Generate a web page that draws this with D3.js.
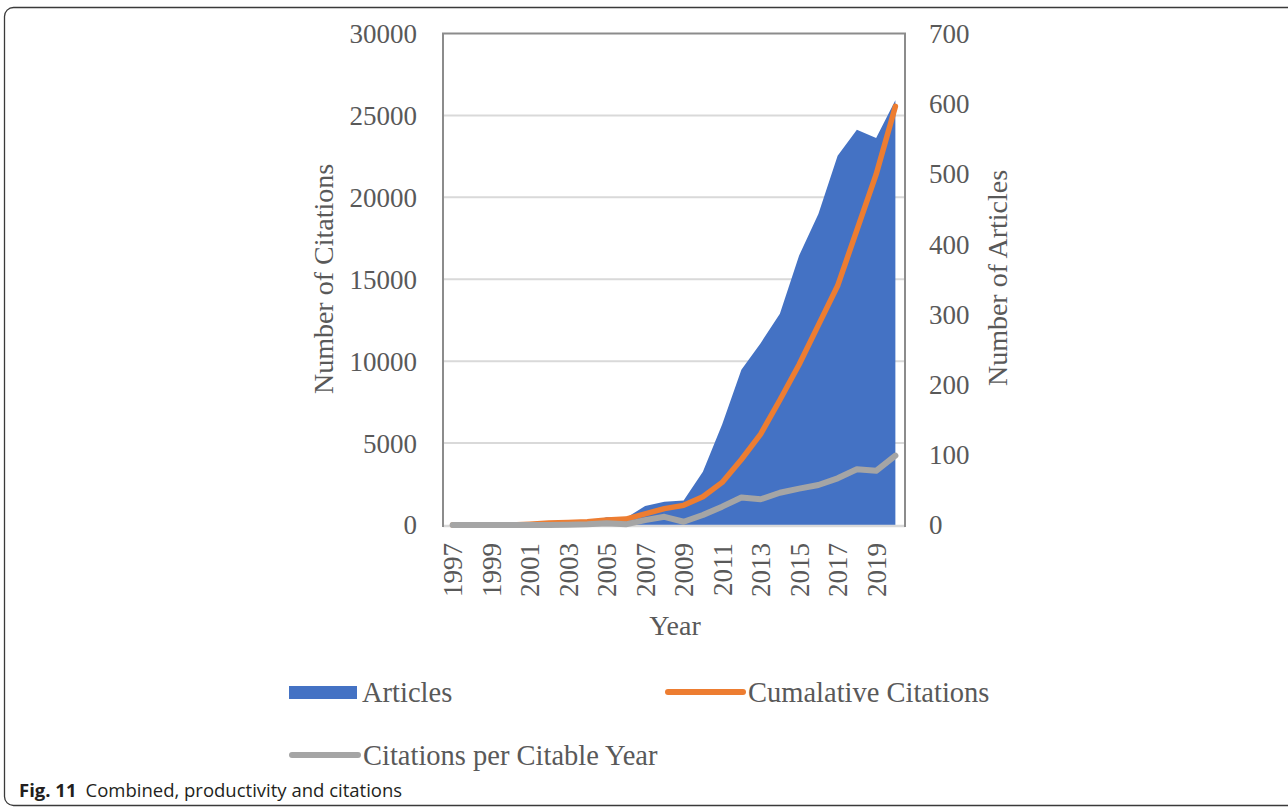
<!DOCTYPE html>
<html>
<head>
<meta charset="utf-8">
<script src="https://cdn.jsdelivr.net/npm/d3@7"></script>
<style>
  html, body { margin: 0; padding: 0; background: #fff; }
  svg { display: block; }
</style>
</head>
<body>
<svg id="chart" width="1288" height="809"></svg>
<script>
// Yearly series
const years = [1997, 1998, 1999, 2000, 2001, 2002, 2003, 2004, 2005, 2006, 2007, 2008,
               2009, 2010, 2011, 2012, 2013, 2014, 2015, 2016, 2017, 2018, 2019, 2020];
const articles = [0, 0, 0, 0, 0, 1, 1, 3, 11, 10, 27, 33,
                  35, 76, 143, 221, 259, 301, 384, 443, 526, 563, 551, 605];
const cumulativeCitations = [0, 0, 0, 0, 50, 120, 160, 200, 300, 360, 680, 1000,
                             1200, 1720, 2600, 4000, 5550, 7630, 9800, 12200, 14600, 18000, 21400, 25550];
const citationsPerYear = [0, 0, 0, 0, 0, 0, 20, 40, 100, 40, 300, 500,
                          200, 610, 1120, 1680, 1570, 1970, 2220, 2440, 2850, 3400, 3310, 4230];

const leftTicks = [0, 5000, 10000, 15000, 20000, 25000, 30000];
const rightTicks = [0, 100, 200, 300, 400, 500, 600, 700];
const yearTicks = years.filter(y => y % 2 === 1);

const legendLabels = ["Articles", "Cumalative Citations", "Citations per Citable Year"];

const C = { blue: "#4472C4", orange: "#ED7D31", gray: "#A5A5A5", text: "#595959",
            grid: "#D9D9D9", frame: "#8C8C8C" };
const serif = "'Liberation Serif', 'Times New Roman', serif";

const svg = d3.select("#chart");

// outer figure box with rounded corners
svg.append("rect")
  .attr("x", 4.5).attr("y", 7.5).attr("width", 1310).attr("height", 798)
  .attr("rx", 9).attr("ry", 9)
  .attr("fill", "none").attr("stroke", "#3a3a3a").attr("stroke-width", 1.3);

const plot = { left: 443, right: 905, top: 33.5, bottom: 525 };

const x = d3.scalePoint().domain(years).range([plot.left, plot.right]).padding(0.5);
const yL = d3.scaleLinear().domain([0, 30000]).range([plot.bottom, plot.top]);
const yR = d3.scaleLinear().domain([0, 700]).range([plot.bottom, plot.top]);

// gridlines
svg.append("g")
  .selectAll("line").data(leftTicks.filter(t => t > 0 && t < 30000)).join("line")
  .attr("x1", plot.left).attr("x2", plot.right)
  .attr("y1", d => yL(d)).attr("y2", d => yL(d))
  .attr("stroke", C.grid).attr("stroke-width", 2);

// articles area (right axis)
const area = d3.area()
  .x((d, i) => x(years[i]))
  .y0(plot.bottom)
  .y1(d => yR(d));
svg.append("path").datum(articles)
  .attr("d", area).attr("fill", C.blue);

// category axis line
svg.append("line")
  .attr("x1", plot.left).attr("x2", plot.right)
  .attr("y1", plot.bottom + 1).attr("y2", plot.bottom + 1)
  .attr("stroke", C.grid).attr("stroke-width", 2.5);

// citation lines (left axis)
const line = d3.line()
  .x((d, i) => x(years[i]))
  .y(d => yL(d));
svg.append("path").datum(cumulativeCitations)
  .attr("d", line).attr("fill", "none")
  .attr("stroke", C.orange).attr("stroke-width", 5.5)
  .attr("stroke-linecap", "round").attr("stroke-linejoin", "round");
svg.append("path").datum(citationsPerYear)
  .attr("d", line).attr("fill", "none")
  .attr("stroke", C.gray).attr("stroke-width", 6)
  .attr("stroke-linecap", "round").attr("stroke-linejoin", "round");

// plot frame: left, top, right
svg.append("path")
  .attr("d", `M${plot.left},${plot.bottom + 2}V${plot.top}H${plot.right}V${plot.bottom + 2}`)
  .attr("fill", "none").attr("stroke", C.frame).attr("stroke-width", 2);

// left axis
const axL = svg.append("g").attr("transform", `translate(${plot.left - 26},0)`)
  .call(d3.axisLeft(yL).tickValues(leftTicks).tickSize(0).tickPadding(0).tickFormat(d3.format("d")));
axL.select(".domain").remove();
axL.selectAll("text")
  .attr("x", 0).attr("dy", "0.33em")
  .attr("fill", C.text).style("font-family", serif).style("font-size", "27px");

// right axis
const axR = svg.append("g").attr("transform", `translate(${plot.right + 24},0)`)
  .call(d3.axisRight(yR).tickValues(rightTicks).tickSize(0).tickPadding(0).tickFormat(d3.format("d")));
axR.select(".domain").remove();
axR.selectAll("text")
  .attr("x", 0).attr("dy", "0.33em")
  .attr("fill", C.text).style("font-family", serif).style("font-size", "27px");

// year axis, labels rotated
const axX = svg.append("g").attr("transform", `translate(0,${plot.bottom + 18})`)
  .call(d3.axisBottom(x).tickValues(yearTicks).tickSize(0).tickPadding(0));
axX.select(".domain").remove();
axX.selectAll("text")
  .attr("y", 0).attr("x", 0).attr("dy", "0.33em")
  .attr("transform", "rotate(-90)")
  .attr("text-anchor", "end")
  .attr("fill", C.text).style("font-family", serif).style("font-size", "27px");

// axis titles
const title = (t, tx, ty, rot) => svg.append("text")
  .attr("transform", `translate(${tx},${ty}) rotate(${rot})`)
  .attr("text-anchor", "middle").attr("dy", "0.33em")
  .attr("fill", C.text).style("font-family", serif).style("font-size", "28px")
  .text(t);
title("Number of Citations", 324, 279, -90);
title("Number of Articles", 998, 278, -90);
title("Year", 675, 626, 0);

// legend
const lg = svg.append("g").style("font-family", serif).style("font-size", "28.5px").attr("fill", C.text);
lg.append("rect").attr("x", 289).attr("y", 686).attr("width", 68).attr("height", 13).attr("fill", C.blue);
lg.append("text").attr("x", 362).attr("y", 702).text(legendLabels[0]);
lg.append("line").attr("x1", 668).attr("x2", 743).attr("y1", 692).attr("y2", 692)
  .attr("stroke", C.orange).attr("stroke-width", 6).attr("stroke-linecap", "round");
lg.append("text").attr("x", 748).attr("y", 702).text(legendLabels[1]);
lg.append("line").attr("x1", 292).attr("x2", 358).attr("y1", 755).attr("y2", 755)
  .attr("stroke", C.gray).attr("stroke-width", 6).attr("stroke-linecap", "round");
lg.append("text").attr("x", 363).attr("y", 765).text(legendLabels[2]);

// caption
const cap = svg.append("text").attr("x", 19).attr("y", 797)
  .style("font-family", "'Open Sans', 'Noto Sans', sans-serif").style("font-size", "18.5px").attr("fill", "#231f20");
cap.append("tspan").style("font-weight", "bold").text("Fig. 11");
cap.append("tspan").attr("dx", 9).text("Combined, productivity and citations");
</script>
</body>
</html>
